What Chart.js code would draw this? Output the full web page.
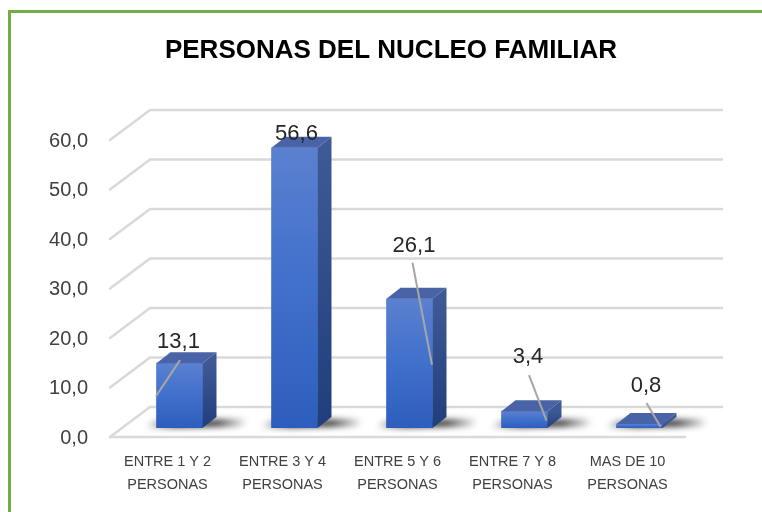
<!DOCTYPE html>
<html>
<head>
<meta charset="utf-8">
<script src="https://cdn.jsdelivr.net/npm/chart.js@4.4.1/dist/chart.umd.min.js"></script>
<style>
  html, body { margin: 0; padding: 0; background: #ffffff; }
  #wrap { width: 762px; height: 512px; position: relative; }
</style>
</head>
<body>
<div id="wrap"><canvas id="c" width="762" height="512"></canvas></div>
<script>
// ---- data ----
const chartTitle = 'PERSONAS DEL NUCLEO FAMILIAR';
const categories = [
  ['ENTRE 1 Y 2', 'PERSONAS'],
  ['ENTRE 3 Y 4', 'PERSONAS'],
  ['ENTRE 5 Y 6', 'PERSONAS'],
  ['ENTRE 7 Y 8', 'PERSONAS'],
  ['MAS DE 10', 'PERSONAS']
];
const values = [13.1, 56.6, 26.1, 3.4, 0.8];
const yTicks = [0, 10, 20, 30, 40, 50, 60];

// ---- styling (label placement as in the original, relative to bar top) ----
const labelOffsets = [[-1, -21], [2, -14], [4.5, -53], [3.5, -54], [6.5, -38.5]];
const leaderLines = [[[-23.5, 33], [0.5, -3]], null, [[3, -36], [22.5, 66]], [[4.5, -36], [22, 9.5]], [[7, -21], [21, 2.7]]];
const DEPTH_X = 14, DEPTH_Y = -11;         // bar depth
const WALL = { frontX: 110, backX: 150, frontDy: 9, backDy: -21, backRight: 722, floorRight: 685 };

const fmt = v => v.toFixed(1).replace('.', ',');

const decor = {
  id: 'decor',
  beforeDraw(chart) {
    const ctx = chart.ctx;
    ctx.save();
    ctx.fillStyle = '#ffffff';
    ctx.fillRect(0, 0, chart.width, chart.height);
    ctx.strokeStyle = '#70ad47';
    ctx.lineWidth = 3;
    ctx.strokeRect(9.5, 11.5, 900, 700);
    // title
    ctx.fillStyle = '#000000';
    ctx.font = 'bold 26px "Liberation Sans", Arial, sans-serif';
    ctx.textAlign = 'center';
    ctx.textBaseline = 'middle';
    ctx.fillText(chartTitle, 391, 51);
    ctx.restore();
  },
  beforeDatasetsDraw(chart) {
    const ctx = chart.ctx;
    const ys = chart.scales.y;
    ctx.save();
    ctx.strokeStyle = '#d9d9d9';
    ctx.lineWidth = 2.5;
    ctx.lineCap = 'round';
    yTicks.forEach(v => {
      const y = ys.getPixelForValue(v);
      ctx.beginPath();
      ctx.moveTo(WALL.frontX, y + WALL.frontDy);
      ctx.lineTo(WALL.backX, y + WALL.backDy);
      ctx.lineTo(WALL.backRight, y + WALL.backDy);
      ctx.stroke();
    });
    const y0 = ys.getPixelForValue(0);
    ctx.beginPath();
    ctx.moveTo(WALL.frontX, y0 + WALL.frontDy);
    ctx.lineTo(WALL.floorRight, y0 + WALL.frontDy);
    ctx.stroke();
    // shadows
    const meta = chart.getDatasetMeta(0);
    ctx.filter = 'blur(3px)';
    meta.data.forEach(bar => {
      const hw = bar.width / 2;
      const b = bar.base;
      const g = ctx.createLinearGradient(bar.x - hw - 10, 0, bar.x + hw + 45, 0);
      g.addColorStop(0, 'rgba(0,0,0,0.05)');
      g.addColorStop(0.3, 'rgba(0,0,0,0.85)');
      g.addColorStop(0.7, 'rgba(0,0,0,0.8)');
      g.addColorStop(1, 'rgba(0,0,0,0)');
      ctx.fillStyle = g;
      ctx.beginPath();
      ctx.moveTo(bar.x - hw - 12, b);
      ctx.lineTo(bar.x + hw + 40, b - 2);
      ctx.lineTo(bar.x + hw + 48, b - 9);
      ctx.lineTo(bar.x - hw - 2, b - 7);
      ctx.closePath();
      ctx.fill();
    });
    ctx.filter = 'none';
    ctx.restore();
  },
  afterDatasetsDraw(chart) {
    const ctx = chart.ctx;
    const meta = chart.getDatasetMeta(0);
    ctx.save();
    meta.data.forEach((bar, i) => {
      const hw = bar.width / 2;
      const L = bar.x - hw, R = bar.x + hw, T = bar.y, B = bar.base;
      // side face
      const sg = ctx.createLinearGradient(0, T, 0, B);
      sg.addColorStop(0, '#3e5a96');
      sg.addColorStop(1, '#203e7c');
      ctx.fillStyle = sg;
      ctx.beginPath();
      ctx.moveTo(R, T);
      ctx.lineTo(R + DEPTH_X, T + DEPTH_Y);
      ctx.lineTo(R + DEPTH_X, B + DEPTH_Y);
      ctx.lineTo(R, B);
      ctx.closePath();
      ctx.fill();
      // top face
      ctx.fillStyle = '#4863a6';
      ctx.beginPath();
      ctx.moveTo(L, T);
      ctx.lineTo(L + DEPTH_X, T + DEPTH_Y);
      ctx.lineTo(R + DEPTH_X, T + DEPTH_Y);
      ctx.lineTo(R, T);
      ctx.closePath();
      ctx.fill();
    });
    // leader lines
    ctx.strokeStyle = '#a6a6a6';
    ctx.lineWidth = 2;
    meta.data.forEach((bar, i) => {
      const ll = leaderLines[i];
      if (!ll) return;
      ctx.beginPath();
      ctx.moveTo(bar.x + ll[0][0], bar.y + ll[0][1]);
      ctx.lineTo(bar.x + ll[1][0], bar.y + ll[1][1]);
      ctx.stroke();
    });
    // data labels
    ctx.fillStyle = '#262626';
    ctx.font = '22px "Liberation Sans", Arial, sans-serif';
    ctx.textAlign = 'center';
    ctx.textBaseline = 'middle';
    meta.data.forEach((bar, i) => {
      const o = labelOffsets[i];
      ctx.fillText(fmt(values[i]), bar.x + o[0], bar.y + o[1]);
    });
    ctx.restore();
  }
};

new Chart(document.getElementById('c'), {
  type: 'bar',
  data: {
    labels: categories,
    datasets: [{
      data: values,
      barThickness: 46,
      borderWidth: 0,
      backgroundColor(context) {
        const chart = context.chart;
        const ys = chart.scales && chart.scales.y;
        if (!chart.chartArea || !ys || context.raw === undefined) return '#3f72cc';
        const top = ys.getPixelForValue(context.raw);
        const base = ys.getPixelForValue(0);
        const g = chart.ctx.createLinearGradient(0, top, 0, base);
        g.addColorStop(0, '#5b80d0');
        g.addColorStop(0.5, '#3f70cb');
        g.addColorStop(1, '#2e5ebd');
        return g;
      }
    }]
  },
  options: {
    responsive: false,
    animation: false,
    layout: { padding: { left: 10, right: 65, top: 131, bottom: 0 } },
    plugins: {
      legend: { display: false },
      title: { display: false },
      tooltip: { enabled: false }
    },
    scales: {
      x: {
        grid: { display: false, drawTicks: false },
        border: { display: false },
        ticks: {
          color: '#404040',
          font: { family: '"Liberation Sans", Arial, sans-serif', size: 14.5, lineHeight: '22.5px' },
          padding: 23,
          labelOffset: -12,
          maxRotation: 0,
          autoSkip: false
        },
        afterFit(scale) { scale.height = 84; }
      },
      y: {
        min: 0,
        max: 60,
        grid: { display: false, drawTicks: false },
        border: { display: false },
        ticks: {
          stepSize: 10,
          color: '#404040',
          font: { family: '"Liberation Sans", Arial, sans-serif', size: 20 },
          padding: 34,
          labelOffset: 10,
          callback: v => fmt(v)
        },
        afterFit(scale) { scale.width = 112; }
      }
    }
  },
  plugins: [decor]
});
</script>
</body>
</html>
